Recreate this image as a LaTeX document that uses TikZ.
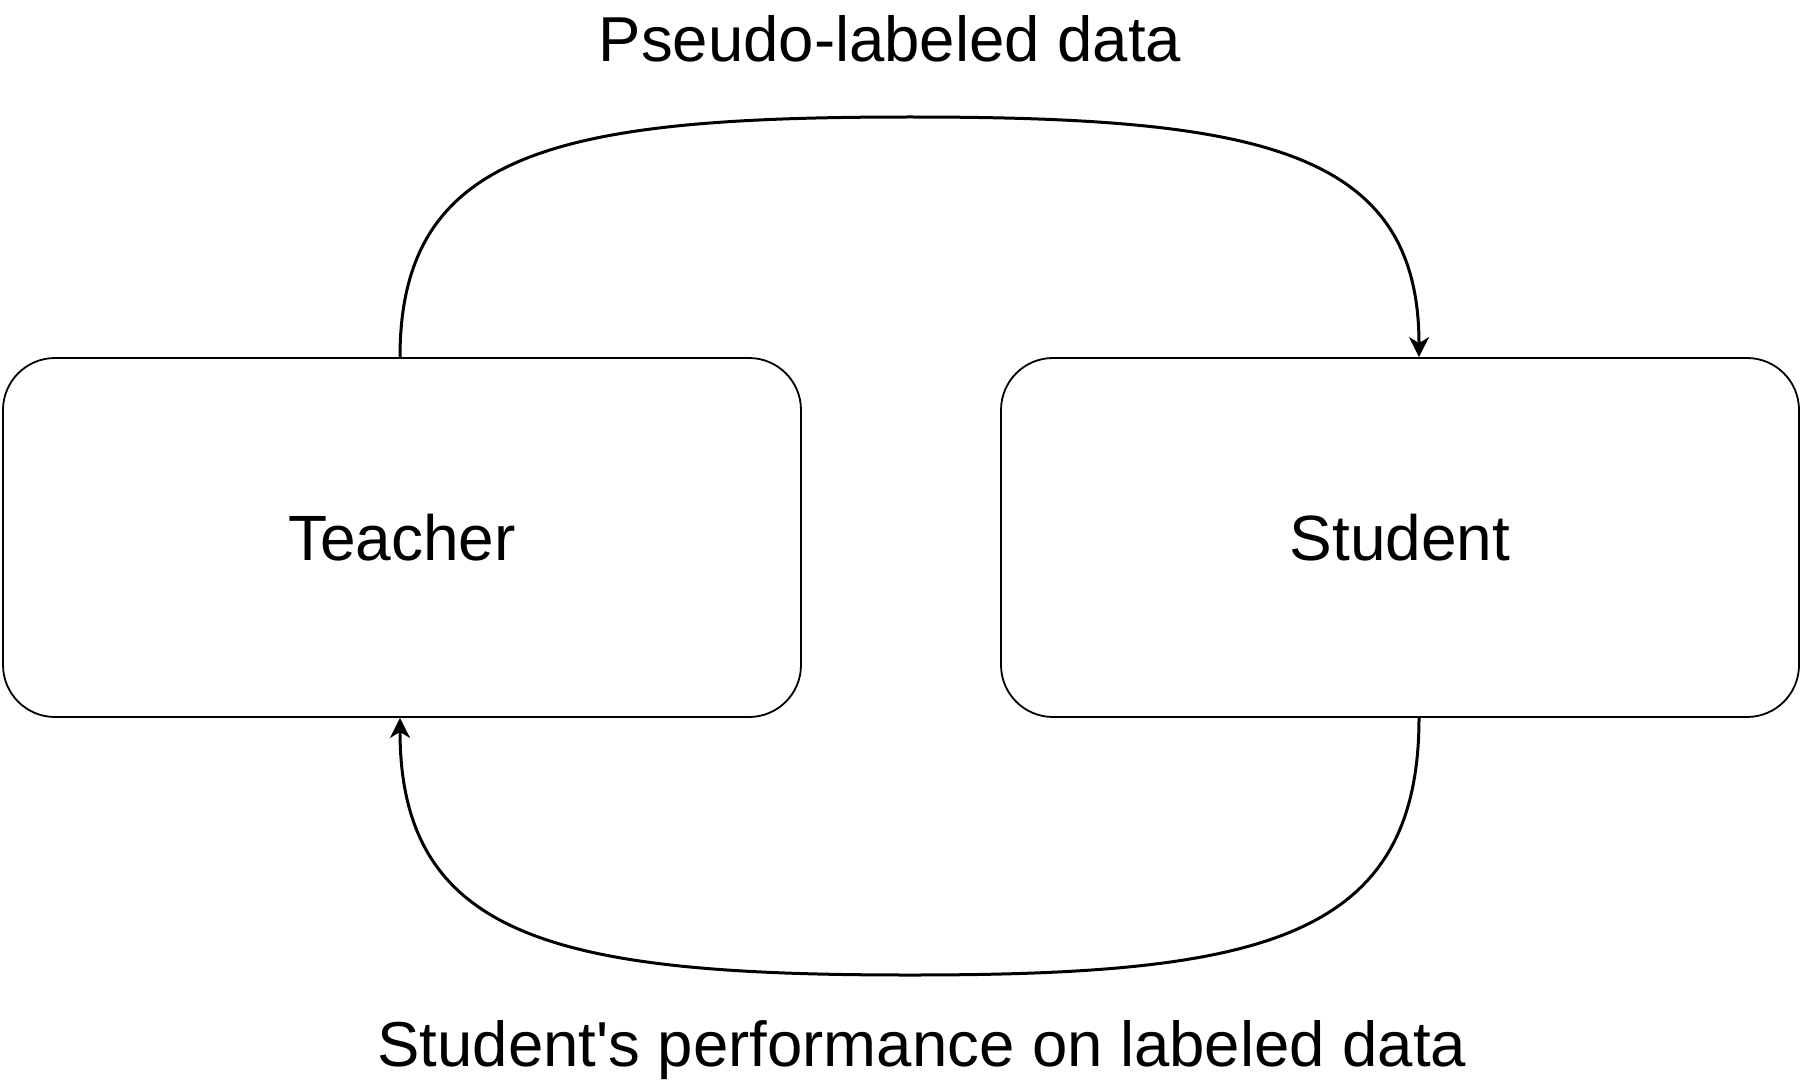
\documentclass[tikz,border=0pt]{standalone}
\usepackage{fontspec}
\setmainfont{Liberation Sans}
\usetikzlibrary{arrows.meta}
\begin{document}
\begin{tikzpicture}[x=1pt,y=-1pt,
  box/.style={draw=black, line width=1.8pt, rounded corners=52pt, minimum width=798pt, minimum height=359pt, inner sep=0pt, font=\fontsize{64}{72}\selectfont},
  lbl/.style={anchor=base, inner sep=0pt, font=\fontsize{63.5}{70}\selectfont},
  flow/.style={line width=3pt, -{Stealth[length=20pt,width=20pt,inset=6pt]}}]
\useasboundingbox[fill=white] (0,0) rectangle (1803,1086);
\node[box] (teacher) at (402,537.5) {Teacher};
\node[box] (student) at (1400,537.5) {Student};
\coordinate (top) at (910,117);
\coordinate (bot) at (910,975);
\node[lbl] (toplbl) at (890,62) {Pseudo-labeled data};
\node[lbl] (botlbl) at (922,1066) {Student\textquotesingle s performance on labeled data};
\draw[flow] ([xshift=-2pt]teacher.north) .. controls (400,150) and (560,117) .. (top)
  .. controls (1260,117) and (1419,150) .. ([xshift=19pt]student.north);
\draw[flow] ([xshift=19pt]student.south) .. controls (1419,940) and (1260,975) .. (bot)
  .. controls (560,975) and (400,940) .. ([xshift=-2pt]teacher.south);
\end{tikzpicture}
\end{document}
